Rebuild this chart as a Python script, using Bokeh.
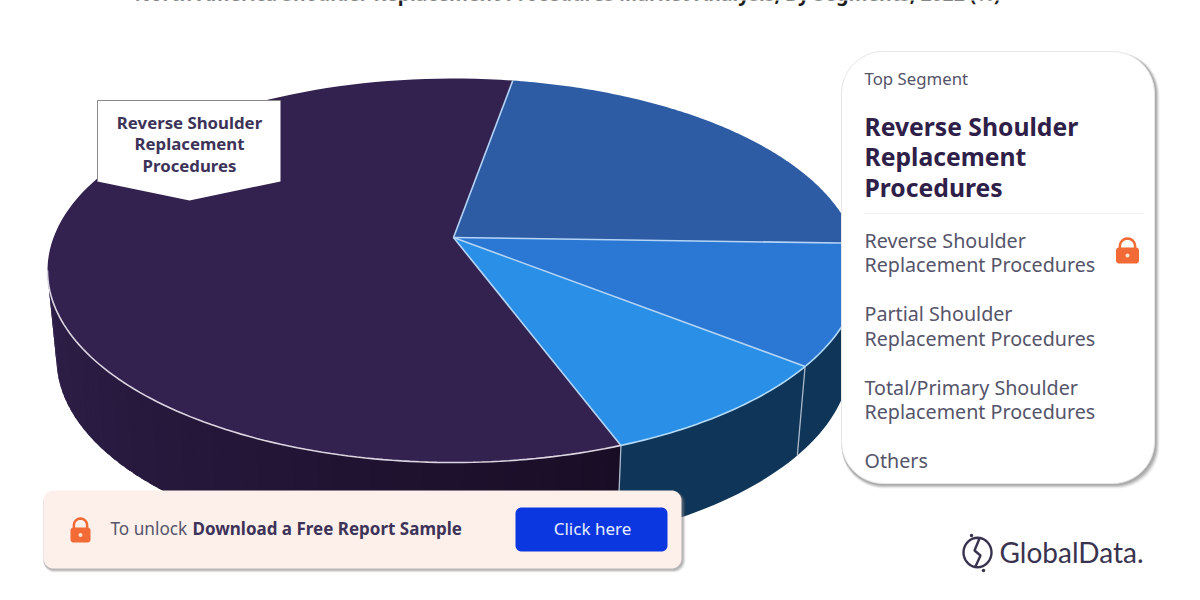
import math
from bokeh.plotting import figure
from bokeh.models import Range1d
from bokeh.core.properties import value
from bokeh.embed import file_html
from bokeh.resources import INLINE

# ---------- data ----------
title_text = "North America Shoulder Replacement Procedures Market Analysis, By Segments, 2022 (%)"
segments = ["Reverse Shoulder Replacement Procedures", "Partial Shoulder Replacement Procedures",
            "Total/Primary Shoulder Replacement Procedures", "Others"]
shares = [59.1, 20.4, 10.6, 9.9]
top_colors = ["#33214f", "#2d5ca5", "#2b78d4", "#2a8fe6"]
legend_lines = ["Reverse Shoulder", "Replacement Procedures", "Partial Shoulder", "Replacement Procedures",
                "Total/Primary Shoulder", "Replacement Procedures", "Others"]
legend_y = [240, 264, 313, 338, 387, 411, 460]
heading_lines = ["Reverse Shoulder", "Replacement", "Procedures"]
heading_y = [126, 156, 187]
callout_lines = ["Reverse Shoulder", "Replacement", "Procedures"]
callout_y = [122, 143, 165]
draw_order = [1, 2, 3, 0]       # clockwise from the top seam
start_deg = 81.6

# ---------- page ----------
F = "Noto Sans"
DARK, GREY = "#2e2048", "#55546a"
p = figure(width=1192, height=592, output_backend="svg", toolbar_location=None,
           x_range=Range1d(0, 1192), y_range=Range1d(592, 0), min_border=0,
           outline_line_color=None, background_fill_color="white", border_fill_color="white")
p.axis.visible = False
p.grid.visible = False


def label(x, y, t, size, color, bold=False, align="left", font=F):
    xs = x if isinstance(x, list) else [x]
    ys = y if isinstance(y, list) else [y]
    ts = t if isinstance(t, list) else [t]
    p.text(xs, ys, text=ts, text_font=value(font), text_font_size=f"{size}px", text_color=color,
           text_font_style="bold" if bold else "normal", text_align=align, text_baseline="middle")


def rrect(x0, y0, x1, y1, r):
    xs, ys = [], []
    for cx, cy, a0 in [(x1 - r, y0 + r, -90), (x1 - r, y1 - r, 0), (x0 + r, y1 - r, 90), (x0 + r, y0 + r, 180)]:
        for i in range(13):
            a = math.radians(a0 + 7.5 * i)
            xs.append(cx + r * math.cos(a))
            ys.append(cy + r * math.sin(a))
    return xs, ys


def lock(cx, top, w, h, shackle):
    xs, ys = rrect(cx - w / 2, top + shackle, cx + w / 2, top + shackle + h, 3)
    r = w * 0.33
    ax = [cx - r] + [cx - r * math.cos(math.radians(a)) for a in range(0, 181, 15)] + [cx + r]
    ay = [top + shackle + 1] + [top + r - r * math.sin(math.radians(a)) + 1 for a in range(0, 181, 15)] + [top + shackle + 1]
    p.line(ax, ay, line_color="#f26a35", line_width=2.5)
    p.patch(xs, ys, fill_color="#f26a35", line_color=None)
    p.scatter([cx], [top + shackle + h * 0.5], size=4, marker="circle", fill_color="#fde2d0", line_color=None)


# ---------- pie geometry ----------
CX, CY, RX, RY = 453, 270, 406, 192      # top rim
BX, BY, BRX, BRY = 453, 358, 397, 194    # bottom rim
AX, AY = 453, 237                        # apex


def top_pt(t):
    return CX + RX * math.cos(t), CY - RY * math.sin(t)


def bot_pt(t):
    return BX + BRX * math.cos(t), BY - BRY * math.sin(t)


def mix(a, b, f):
    ca = [int(a[i:i + 2], 16) for i in (1, 3, 5)]
    cb = [int(b[i:i + 2], 16) for i in (1, 3, 5)]
    return "#%02x%02x%02x" % tuple(round(u + (v - u) * f) for u, v in zip(ca, cb))


angle = math.radians(start_deg)
arcs = []
for idx in draw_order:
    sweep = math.radians(shares[idx] * 3.6)
    arcs.append((idx, angle, angle - sweep))
    angle -= sweep

# side walls (only the front half of the rim can be seen)
wall_seams = []
for idx, a0, a1 in arcs:
    if a1 > -0.001:
        continue
    if idx == 0:
        lo_v, hi_v = -math.pi, a0
        n = 60
        for i in range(n):
            s0 = lo_v + (hi_v - lo_v) * i / n
            s1 = lo_v + (hi_v - lo_v) * min(i + 1.6, n) / n
            xs, ys = [], []
            for k in range(5):
                x, y = top_pt(s0 + (s1 - s0) * k / 4)
                xs.append(x); ys.append(y)
            for k in range(4, -1, -1):
                x, y = bot_pt(s0 + (s1 - s0) * k / 4)
                xs.append(x); ys.append(y)
            col = mix("#2e1f49", "#190d26", i / (n - 1))
            p.patch(xs, ys, fill_color=col, line_color=None)
    else:
        lo_v, hi_v = a1, min(a0, 0.12)
        steps = 30
        ts = [lo_v + (hi_v - lo_v) * i / steps for i in range(steps + 1)]
        xs = [top_pt(t)[0] for t in ts] + [bot_pt(t)[0] for t in reversed(ts)]
        ys = [top_pt(t)[1] for t in ts] + [bot_pt(t)[1] for t in reversed(ts)]
        p.patch(xs, ys, fill_color="#0f3558", line_color=None)
    wall_seams.append(a0)

for s in wall_seams:
    if -math.pi < s < 0:
        a, b = top_pt(s), bot_pt(s)
        p.line([a[0], b[0]], [a[1], b[1]], line_color="#a9b9cb", line_width=1.3)

# top surface
for idx, a0, a1 in arcs:
    steps = 120
    ts = [a0 + (a1 - a0) * i / steps for i in range(steps + 1)]
    xs = [AX] + [top_pt(t)[0] for t in ts]
    ys = [AY] + [top_pt(t)[1] for t in ts]
    p.patch(xs, ys, fill_color=top_colors[idx], line_color=None)

# rim highlights and radial seams
for idx, a0, a1 in arcs:
    if idx == 0:
        lo, hi = -math.pi, a0
        ts = [lo + (hi - lo) * i / 90 for i in range(91)]
        col = "#dcd6e2"
    elif a1 < 0:
        hi = min(a0, 0.1)
        ts = [a1 + (hi - a1) * i / 40 for i in range(41)]
        col = "#b4dcfa"
    else:
        ts = []
    if ts:
        p.line([top_pt(t)[0] for t in ts], [top_pt(t)[1] for t in ts], line_color=col, line_width=1.6)
for idx, a0, a1 in arcs:
    if idx != 0:
        e = top_pt(a1)
        p.line([AX, e[0]], [AY, e[1]], line_color="#b4d5f6", line_width=1.6)
e = top_pt(math.radians(start_deg))
p.line([AX, e[0]], [AY, e[1]], line_color="#b4d5f6", line_width=1.6)

# ---------- title (cut by the top of the page, as in the reference) ----------
label(567, -7, title_text, 19.4, "#1c1c1c", bold=True, align="center")

# ---------- callout ----------
p.patch([97, 280, 280, 189, 97], [100, 100, 181, 200, 181], fill_color="white", line_color=None)
p.line([97, 97, 280], [181, 100, 100], line_color="#8a8a8a", line_width=1)
label([189] * 3, callout_y, callout_lines, 16.8, "#3d3358", bold=True, align="center")

# ---------- right panel ----------
for off, alpha in [(4, 0.10), (3, 0.18), (2, 0.30), (1, 0.30)]:
    xs, ys = rrect(841, 52, 1156 + off - 1, 485 + off - 1, 42)
    p.patch(xs, ys, fill_color="#7d7d7d", fill_alpha=alpha, line_color=None)
xs, ys = rrect(841, 51, 1154, 483, 42)
p.patch(xs, ys, fill_color="white", line_color="#e6e6e6", line_width=1)
label(864, 78, "Top Segment", 16.8, GREY)
label([864] * 3, heading_y, heading_lines, 24.7, DARK, bold=True)
p.line([864, 1143], [213, 213], line_color="#f3f3f3", line_width=1)
label([864] * len(legend_lines), legend_y, legend_lines, 19.7, GREY)
lock(1127, 237, 23, 16, 10)

# ---------- banner ----------
for off, alpha in [(4, 0.10), (3, 0.25), (2, 0.35)]:
    xs, ys = rrect(43, 491, 681 + off, 568 + off, 11)
    p.patch(xs, ys, fill_color="#7d7d7d", fill_alpha=alpha, line_color=None)
xs, ys = rrect(43, 490, 681, 568, 10)
p.patch(xs, ys, fill_color="#fdf0eb", line_color=None)
lock(80, 517, 20, 15, 10)
label(110, 528, "To unlock", 17.2, GREY)
label(192, 528, "Download a Free Report Sample", 17, "#3d3358", bold=True)
xs, ys = rrect(515, 507, 667, 551, 6)
p.patch(xs, ys, fill_color="#0a37e0", line_color=None)
label(592, 528, "Click here", 17, "#e8eeff", align="center")

# ---------- logo ----------
lx, ly, lr = 977, 552, 14
ring = [math.radians(a) for a in range(0, 361, 10)]
p.line([lx + lr * math.cos(a) for a in ring], [ly + lr * 1.05 * math.sin(a) for a in ring], line_color="#3a3350", line_width=2.4)
p.line([lx + 2, lx - 3, lx + 3, lx - 2], [ly - 14, ly - 2, ly + 3, ly + 14], line_color="#3a3350", line_width=2.4)
p.scatter([lx - 6, lx + 6], [ly - 17, ly + 18], size=3.5, fill_color="#3a3350", line_color=None)
label(999, 551, "GlobalData.", 28, "#3a3350", font="Lato")

html = file_html(p, INLINE)
open("out.html", "w").write(html)
